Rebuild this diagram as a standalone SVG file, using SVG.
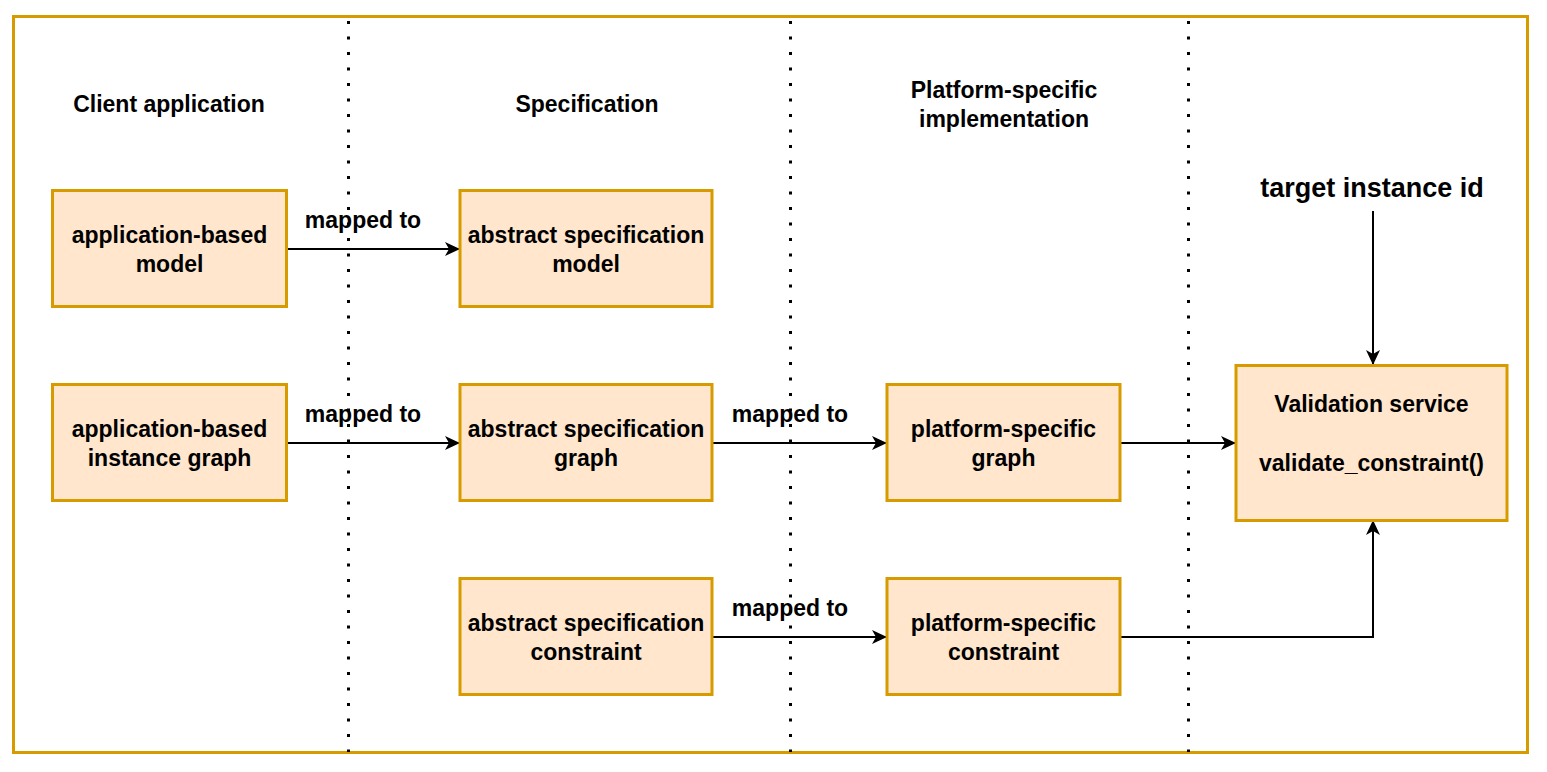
<svg xmlns="http://www.w3.org/2000/svg" width="1547" height="772" viewBox="0 0 1547 772">
<style>
.node{fill:#ffe6cc;stroke:#d79b00;stroke-width:3}
.frame{fill:#ffffff;stroke:#d79b00;stroke-width:3}
.sep{stroke:#000;stroke-width:3;stroke-dasharray:3 12.5;fill:none}
.t{font-family:"Liberation Sans",Arial,Helvetica,sans-serif;font-weight:bold;font-size:23px;fill:#000;text-anchor:middle}
.big{font-size:27px}
.edge{stroke:#000;stroke-width:2;fill:none}
</style>
<defs>
<marker id="arr" markerUnits="userSpaceOnUse" markerWidth="16" markerHeight="16" refX="15" refY="8" orient="auto">
<path d="M0,1 L15,8 L0,15 L4,8 Z" fill="#000"/>
</marker>
</defs>
<rect class="frame" x="13.5" y="16.5" width="1514" height="736"/>
<g id="separators">
<line class="sep" x1="348.5" y1="21" x2="348.5" y2="752"/>
<line class="sep" x1="790.5" y1="21" x2="790.5" y2="752"/>
<line class="sep" x1="1188.5" y1="21" x2="1188.5" y2="752"/>
</g>
<g id="headers">
<text class="t" x="169" y="112">Client application</text>
<text class="t" x="587" y="112">Specification</text>
<text class="t" x="1004" y="98">Platform-specific</text>
<text class="t" x="1004" y="127">implementation</text>
</g>
<g id="connectors">
<line class="edge" x1="286" y1="249" x2="460" y2="249" marker-end="url(#arr)"/>
<line class="edge" x1="286" y1="443" x2="460" y2="443" marker-end="url(#arr)"/>
<line class="edge" x1="712" y1="443" x2="887" y2="443" marker-end="url(#arr)"/>
<line class="edge" x1="712" y1="637" x2="887" y2="637" marker-end="url(#arr)"/>
<line class="edge" x1="1120" y1="443" x2="1236" y2="443" marker-end="url(#arr)"/>
<polyline class="edge" points="1120,637 1373,637 1373,520" marker-end="url(#arr)"/>
<line class="edge" x1="1373" y1="211" x2="1373" y2="365" marker-end="url(#arr)"/>
<text class="t" x="363" y="228">mapped to</text>
<text class="t" x="363" y="422">mapped to</text>
<text class="t" x="790" y="422">mapped to</text>
<text class="t" x="790" y="616">mapped to</text>
</g>
<g id="app-model">
<rect class="node" x="52.5" y="190.5" width="234" height="116"/>
<text class="t" x="169.5" y="243">application-based</text>
<text class="t" x="169.5" y="272">model</text>
</g>
<g id="app-graph">
<rect class="node" x="52.5" y="384.5" width="234" height="116"/>
<text class="t" x="169.5" y="437">application-based</text>
<text class="t" x="169.5" y="466">instance graph</text>
</g>
<g id="spec-model">
<rect class="node" x="460" y="190.5" width="252" height="116"/>
<text class="t" x="586" y="243">abstract specification</text>
<text class="t" x="586" y="272">model</text>
</g>
<g id="spec-graph">
<rect class="node" x="460" y="384.5" width="252" height="116"/>
<text class="t" x="586" y="437">abstract specification</text>
<text class="t" x="586" y="466">graph</text>
</g>
<g id="spec-constraint">
<rect class="node" x="460" y="578.5" width="252" height="116"/>
<text class="t" x="586" y="631">abstract specification</text>
<text class="t" x="586" y="660">constraint</text>
</g>
<g id="platform-graph">
<rect class="node" x="887" y="384.5" width="233" height="116"/>
<text class="t" x="1003.5" y="437">platform-specific</text>
<text class="t" x="1003.5" y="466">graph</text>
</g>
<g id="platform-constraint">
<rect class="node" x="887" y="578.5" width="233" height="116"/>
<text class="t" x="1003.5" y="631">platform-specific</text>
<text class="t" x="1003.5" y="660">constraint</text>
</g>
<g id="validation-service">
<rect class="node" x="1236" y="365.5" width="271" height="155"/>
<text class="t" x="1371.5" y="412">Validation service</text>
<text class="t" x="1371.5" y="471">validate_constraint()</text>
</g>
<g id="target-id">
<text class="t big" x="1372" y="197">target instance id</text>
</g>
</svg>
